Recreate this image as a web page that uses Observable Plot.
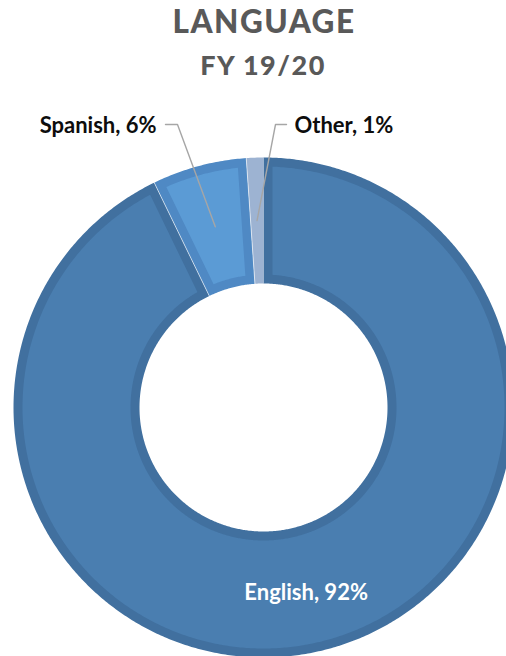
<!DOCTYPE html>
<html><head><meta charset="utf-8">
<script src="https://cdn.jsdelivr.net/npm/d3@7"></script>
<script src="https://cdn.jsdelivr.net/npm/@observablehq/plot@0.6"></script>
<style>
html,body{margin:0;padding:0;background:#fff;}
#wrap{width:506px;height:656px;position:relative;overflow:hidden;font-family:Lato,"Open Sans",sans-serif;}
#titles{position:relative;height:100px;}
.t{position:absolute;left:11px;width:506px;text-align:center;color:#595959;font-weight:900;line-height:1;white-space:nowrap;box-sizing:border-box;}
#t1{top:6px;font-size:31.5px;letter-spacing:1.5px;}
#t2{top:51px;font-size:27px;letter-spacing:1.5px;left:10px;}
#chart svg{display:block;}
</style></head><body>
<div id="wrap">
  <div id="titles"><div class="t" id="t1"></div><div class="t" id="t2"></div></div>
  <div id="chart"></div>
</div>
<script>
// ---- data ----
const title = "LANGUAGE";
const subtitle = "FY 19/20";
const categories = ["English", "Spanish", "Other"];
const shares = [92.8, 6.1, 1.1];          // share of clients, %
const shareLabels = ["92%", "6%", "1%"];  // data-label text as printed

// ---- style / layout ----
const fillColors = ["#4A7EB0", "#5B9BD5", "#9DB3D2"];
const borderColors = ["#41709F", "#4F89C4", "#9DB3D2"];
const W = 506, H = 556, TOP = 100;
const CX = 263, CY = 407 - TOP;   // donut centre in svg pixels
const R = 250, r = 124, BORDER = 9;
const FS = 22;

document.getElementById("t1").textContent = title;
document.getElementById("t2").textContent = subtitle;

const total = d3.sum(shares);
const slices = [];
let cum = 0;
categories.forEach((c, i) => {
  const a0 = 2 * Math.PI * cum / total;
  cum += shares[i];
  const a1 = 2 * Math.PI * cum / total;
  slices.push({category: c, a0, a1, mid: (a0 + a1) / 2, i});
});

const pt = (rad, a) => ({x: rad * Math.sin(a), y: rad * Math.cos(a)});
function arc(rad, a0, a1) {
  const n = Math.max(2, Math.ceil(Math.abs(a1 - a0) / (Math.PI / 360)) + 1);
  return d3.range(n).map(k => pt(rad, a0 + (a1 - a0) * k / (n - 1)));
}
function ring(ro, ri, oa0, oa1, ia0, ia1) {
  const pts = arc(ro, oa0, oa1).concat(arc(ri, ia1, ia0));
  pts.push(pts[0]);
  return pts;
}

const marks = [];
slices.forEach(s => {
  marks.push(Plot.line(ring(R, r, s.a0, s.a1, s.a0, s.a1), {x: "x", y: "y", fill: borderColors[s.i], stroke: "none"}));
  const Ro = R - BORDER, Ri = r + BORDER;
  const oo = Math.asin(BORDER / Ro), io = Math.asin(BORDER / Ri);
  if (s.a1 - s.a0 > 2 * io) {
    marks.push(Plot.line(ring(Ro, Ri, s.a0 + oo, s.a1 - oo, s.a0 + io, s.a1 - io), {x: "x", y: "y", fill: fillColors[s.i], stroke: "none"}));
  }
});
// thin separators between neighbouring slices
slices.slice(1).forEach(s => {
  marks.push(Plot.line([pt(r, s.a0), pt(R, s.a0)], {x: "x", y: "y", stroke: "white", strokeOpacity: 0.6, strokeWidth: 1}));
});

// callout layout (pixels relative to centre, y up)
const labelY = 283;
const callouts = {
  Spanish: {elbowX: -86, endX: -98, textX: -107, anchor: "end"},
  Other:   {elbowX: 12,  endX: 23,  textX: 31,   anchor: "start"}
};
const mr = (R + r) / 2;
const labelText = s => `${s.category}, ${shareLabels[s.i]}`;
const outside = slices.filter(s => callouts[s.category]);
outside.forEach(s => {
  const c = callouts[s.category];
  const a = pt(mr, s.mid);
  marks.push(Plot.line([a, {x: c.elbowX, y: labelY}, {x: c.endX, y: labelY}], {x: "x", y: "y", stroke: "#A6A6A6", strokeWidth: 1.4}));
});
["start", "end"].forEach(anchor => {
  marks.push(Plot.text(outside.filter(s => callouts[s.category].anchor === anchor), {
    x: s => callouts[s.category].textX,
    y: () => labelY - 1,
    text: labelText,
    textAnchor: anchor,
    fill: "#0D0D0D", fontWeight: "bold", fontSize: FS
  }));
});
const inside = slices.filter(s => !callouts[s.category]);
marks.push(Plot.text(inside, {
  x: s => pt(mr + 3, s.mid).x,
  y: s => pt(mr + 3, s.mid).y,
  text: labelText,
  fill: "white", fontWeight: "bold", fontSize: FS
}));

const chart = Plot.plot({
  width: W, height: H, margin: 0,
  x: {domain: [-CX, W - CX], range: [0, W], axis: null},
  y: {domain: [-(H - CY), CY], range: [H, 0], axis: null},
  style: {fontFamily: "Lato, 'Open Sans', sans-serif", overflow: "visible", background: "white"},
  marks
});
document.getElementById("chart").appendChild(chart);
</script>
</body></html>
